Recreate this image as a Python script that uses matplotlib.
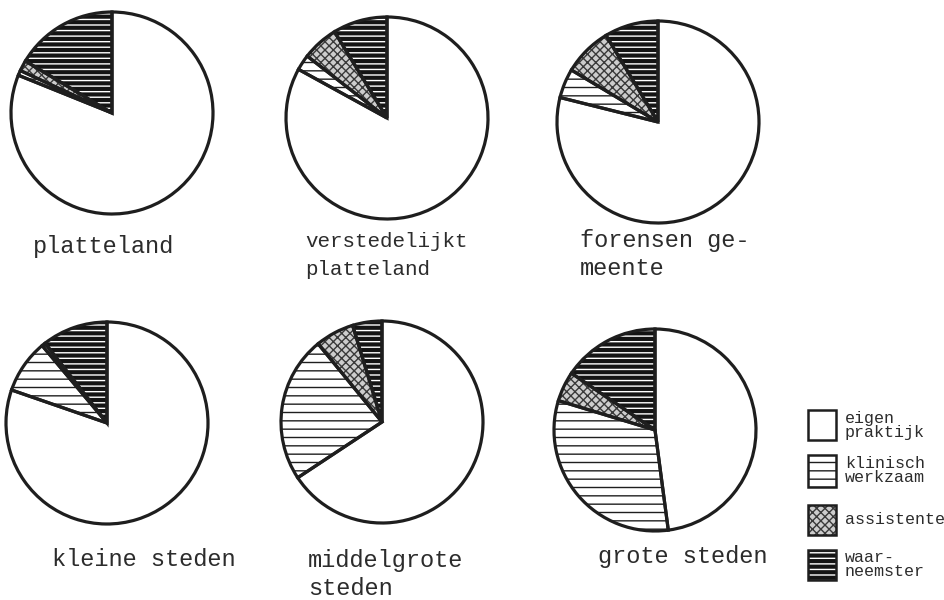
import matplotlib
matplotlib.use("Agg")
import matplotlib.pyplot as plt
from matplotlib.patches import Rectangle

# share (%) per category, per type of municipality
regions = ['platteland', 'verstedelijkt\nplatteland', 'forensen ge-\nmeente',
           'kleine steden', 'middelgrote\nsteden', 'grote steden']
eigen_praktijk = [81.1, 83.0, 78.9, 80.3, 65.7, 47.9]
klinisch_werkzaam = [0.8, 2.5, 4.7, 8.6, 23.4, 31.8]
assistente = [1.7, 5.8, 7.8, 0.6, 6.2, 4.8]
waarneemster = [16.4, 8.7, 8.6, 10.5, 4.7, 15.5]

legend_labels = ['eigen\npraktijk', 'klinisch\nwerkzaam', 'assistente', 'waar-\nneemster']

plt.rcParams['hatch.linewidth'] = 1.0
mono = 'Liberation Mono'
ink = '#1e1e1e'
txt = '#2c2c2c'
H = 600

# pie centres / radius and label baselines in pixel coords (y from top)
centers = [(112, 113), (387, 118), (658, 122), (107, 423), (382, 422), (655, 430)]
radius = 101
label_pos = [(33, 253), (305, 247), (580, 247), (52, 566), (308, 567), (598, 563)]
label_size = [17, 15, 17, 17, 17, 17]

# fill style per slice: waarneemster, assistente, klinisch, eigen
styles = [
    dict(fc='#141414', ec='white', hatch='---'),
    dict(fc='#cdcdcd', ec='#3a3a3a', hatch='xxxx'),
    dict(fc='white', ec=ink, hatch='--'),
    dict(fc='white', ec=ink, hatch=None),
]

fig = plt.figure(figsize=(9.45, 6.0), dpi=100)
ax = fig.add_axes([0, 0, 1, 1])

for i, name in enumerate(regions):
    vals = [waarneemster[i], assistente[i], klinisch_werkzaam[i], eigen_praktijk[i]]
    cx, cy = centers[i]
    wedges, _ = ax.pie(vals, center=(cx, H - cy), radius=radius, startangle=90,
                       counterclock=True, wedgeprops=dict(linewidth=0))
    for w, st in zip(wedges, styles):
        w.set_facecolor(st['fc'])
        w.set_edgecolor(st['ec'])
        if st['hatch']:
            w.set_hatch(st['hatch'])
    # outlines on top
    ax.pie(vals, center=(cx, H - cy), radius=radius, startangle=90,
           counterclock=True,
           wedgeprops=dict(fill=False, edgecolor=ink, linewidth=2.3))

    lx, ly = label_pos[i]
    for j, line in enumerate(name.split('\n')):
        ax.text(lx, H - (ly + j * 28), line, family=mono, fontsize=label_size[i],
                color=txt, va='baseline', ha='left')

# legend
box_y = [410, 455, 505, 550]
box_h = [30, 32, 30, 30]
for k, lab in enumerate(legend_labels):
    st = styles[3 - k]
    y0 = H - box_y[k] - box_h[k]
    r = Rectangle((808, y0), 28, box_h[k], facecolor=st['fc'], edgecolor=st['ec'],
                  hatch=st['hatch'], linewidth=0)
    ax.add_patch(r)
    ax.add_patch(Rectangle((808, y0), 28, box_h[k], fill=False, edgecolor=ink, linewidth=1.8))
    lines = lab.split('\n')
    mid = box_y[k] + box_h[k] / 2
    start = mid - (len(lines) - 1) * 7
    for j, line in enumerate(lines):
        ax.text(845, H - (start + j * 14), line, family=mono, fontsize=12,
                color=txt, va='center', ha='left')

ax.set_xlim(0, 945)
ax.set_ylim(0, H)
ax.set_aspect('equal')
ax.axis('off')

fig.savefig('out.png', dpi=100, facecolor='white')
